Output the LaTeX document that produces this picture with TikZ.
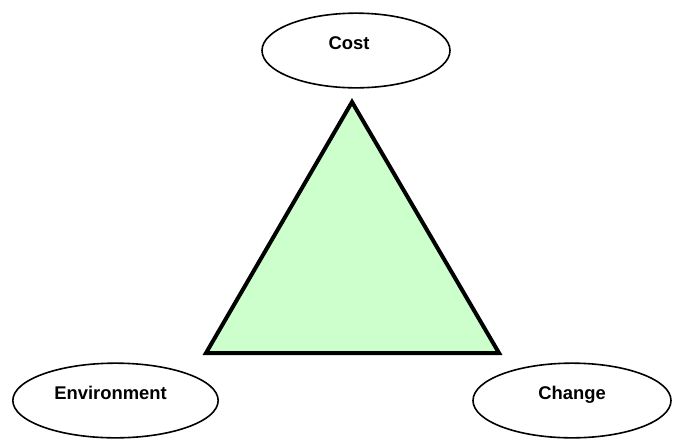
\documentclass[tikz,border=0pt]{standalone}
\usepackage{fontspec}
\setmainfont{Liberation Sans}
\usetikzlibrary{shapes.geometric}

\begin{document}
\begin{tikzpicture}[
  x=0.75pt, y=-0.75pt,
  topic/.style={
    ellipse, draw=black, line width=1.2pt,
    inner sep=0pt, minimum height=56pt,
  },
  topic text/.style={
    font=\bfseries\fontsize{13.8}{16}\selectfont,
    inner sep=0pt,
  }]
  \useasboundingbox (0,0) rectangle (675,440);
  \coordinate (top) at (352,102);
  \coordinate (left) at (206,353);
  \coordinate (right) at (499,353);
  \filldraw [fill={rgb,255:red,204;green,255;blue,204}, line width=3pt, line join=miter] (top) -- (left) -- (right) -- cycle;
  \node [topic, minimum width=141pt] (cost) at (356,50.5) {};
  \node [topic, minimum width=154pt] (env) at (115.5,400.5) {};
  \node [topic, minimum width=148.5pt] (change) at (572,400.5) {};
  \node [topic text] (cost text) at (349,43.5) {Cost};
  \node [topic text] (env text) at (110.5,393) {Environment};
  \node [topic text] (change text) at (572,395) {Change};
\end{tikzpicture}
\end{document}
